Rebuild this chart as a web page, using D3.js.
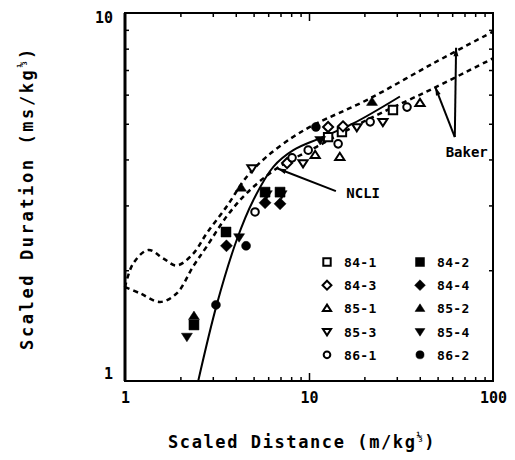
<!DOCTYPE html>
<html>
<head>
<meta charset="utf-8">
<script src="https://cdn.jsdelivr.net/npm/d3@7"></script>
<style>
  body { margin: 0; background: #fff; }
  text { font-family: "DejaVu Sans Mono", monospace; font-weight: bold; fill: #000; }
</style>
</head>
<body>
<div id="chart"></div>
<script>
// values: [scaled distance, scaled duration]
const xTickLabels = [1, 10, 100];
const yTickLabels = [1, 10];
const seriesNames = ["84-1", "84-2", "84-3", "84-4", "85-1", "85-2", "85-3", "85-4", "86-1", "86-2"];

const pts841 = [[12.7, 4.6], [15.1, 4.75], [28.6, 5.45]];
const pts842 = [[2.37, 1.42], [3.54, 2.54], [5.77, 3.26], [6.96, 3.26]];
const pts843 = [[7.6, 3.91], [12.7, 4.9], [15.3, 4.92]];
const pts844 = [[3.56, 2.33], [5.77, 3.05], [6.96, 3.03]];
const pts851 = [[10.8, 4.11], [14.7, 4.06], [40.1, 5.69]];
const pts852 = [[2.37, 1.5], [4.27, 3.35], [22.0, 5.73]];
const pts853 = [[4.9, 3.79], [9.28, 3.91], [18.2, 4.9], [25.2, 5.06]];
const pts854 = [[2.17, 1.32], [4.17, 2.46], [5.9, 3.22], [7.1, 3.22], [11.5, 4.52]];
const pts861 = [[5.09, 2.88], [8.09, 4.04], [9.9, 4.24], [14.4, 4.41], [21.5, 5.06], [34.1, 5.55]];
const pts862 = [[3.12, 1.61], [4.55, 2.33], [10.9, 4.9]];

// NCLI fit and the two Baker curves
const ncli = [[2.5, 1.0], [3.15, 1.61], [4.05, 2.42], [4.98, 3.1], [6.4, 3.82], [8.22, 4.24], [11.5, 4.57], [17.4, 5.01], [31.2, 5.93]];
const bakerUpper = [[1.0, 1.80], [1.11, 2.09], [1.34, 2.27], [1.62, 2.15], [1.91, 2.06], [2.35, 2.22], [2.78, 2.52], [3.57, 2.98], [4.59, 3.59], [5.89, 4.07], [8.22, 4.61], [11.0, 5.01], [20.6, 5.8], [47.4, 7.3], [100, 8.9]];
const bakerLower = [[1.0, 1.80], [1.21, 1.73], [1.55, 1.64], [1.91, 1.73], [2.35, 2.05], [2.78, 2.32], [3.57, 2.8], [4.59, 3.24], [6.67, 3.78], [11.0, 4.33], [20.6, 5.12], [47.4, 6.24], [100, 7.53]];

const seriesPoints = [pts841, pts842, pts843, pts844, pts851, pts852, pts853, pts854, pts861, pts862];

const markerStyle = {
  "84-1": { shape: "square", filled: false }, "84-2": { shape: "square", filled: true },
  "84-3": { shape: "diamond", filled: false }, "84-4": { shape: "diamond", filled: true },
  "85-1": { shape: "up", filled: false }, "85-2": { shape: "up", filled: true },
  "85-3": { shape: "down", filled: false }, "85-4": { shape: "down", filled: true },
  "86-1": { shape: "circle", filled: false }, "86-2": { shape: "circle", filled: true }
};

const width = 515, height = 460;
const margin = { top: 13, right: 22, bottom: 79, left: 125 };
const innerW = width - margin.left - margin.right,
  innerH = height - margin.top - margin.bottom;

const svg = d3.select("#chart").append("svg")
  .attr("width", width)
  .attr("height", height);

const g = svg.append("g")
  .attr("transform", "translate(" + margin.left + "," + margin.top + ")");

const x = d3.scaleLog().domain([1, 100]).range([0, innerW]);
const y = d3.scaleLog().domain([1, 10]).range([innerH, 0]);

// symbol outline around (0,0), r = half width
const symbolPath = (shape, r) => {
  if (shape == "circle") {
    const p = d3.path(); p.arc(0, 0, r * 0.9, 0, 2 * Math.PI); p.closePath(); return p.toString();
  }
  if (shape == "square") return "M" + (-r) + "," + (-r) + "H" + r + "V" + r + "H" + (-r) + "Z";
  if (shape == "diamond") { const q = r * 1.2; return "M0," + (-q) + "L" + q + ",0L0," + q + "L" + (-q) + ",0Z"; }
  const h = r * 1.7, s = shape == "up" ? 1 : -1;
  return "M0," + (-s * h * 0.6) + "L" + (r * 1.1) + "," + (s * h * 0.4) + "L" + (-r * 1.1) + "," + (s * h * 0.4) + "Z";
};
const drawMarker = (sel, name, r) => {
  const st = markerStyle[name];
  sel.append("path")
    .attr("d", symbolPath(st.shape, st.filled ? r : r - 0.8))
    .attr("transform", (d) => "translate(" + d[0] + "," + d[1] + ")")
    .attr("fill", st.filled ? "#000" : "#fff")
    .attr("stroke", "#000")
    .attr("stroke-width", st.filled ? 0.5 : 2);
};

// ticks (inward) on all four sides
const xMinor = [2, 3, 4, 5, 6, 7, 8, 9, 20, 30, 40, 50, 60, 70, 80, 90];
const yMinor = [2, 3, 4, 5, 6, 7, 8, 9];

g.append("g").attr("transform", "translate(0," + innerH + ")")
  .call(d3.axisBottom(x).tickValues(xMinor).tickSize(-4).tickFormat(""));
g.append("g").attr("transform", "translate(0," + innerH + ")")
  .call(d3.axisBottom(x).tickValues([10]).tickSize(-8).tickFormat(""));
g.append("g")
  .call(d3.axisTop(x).tickValues(xMinor).tickSize(-4).tickFormat(""));
g.append("g")
  .call(d3.axisTop(x).tickValues([10]).tickSize(-8).tickFormat(""));
g.append("g")
  .call(d3.axisLeft(y).tickValues(yMinor).tickSize(-4).tickFormat(""));
g.append("g").attr("transform", "translate(" + innerW + ",0)")
  .call(d3.axisRight(y).tickValues(yMinor).tickSize(-4).tickFormat(""));

g.selectAll(".domain").remove();
g.selectAll(".tick line").attr("stroke", "#000").attr("stroke-width", 1.5);

// tick labels
const xLab = g.append("g").attr("transform", "translate(0," + innerH + ")")
  .call(d3.axisBottom(x).tickValues(xTickLabels).tickSize(0).tickPadding(11).tickFormat(d3.format("d")));
const yLab = g.append("g")
  .call(d3.axisLeft(y).tickValues(yTickLabels).tickSize(0).tickPadding(12).tickFormat(d3.format("d")));
[xLab, yLab].forEach((a) => {
  a.select(".domain").remove();
  a.selectAll("text").style("font-family", "'DejaVu Sans Mono', monospace")
    .style("font-weight", "bold").style("font-size", "15px").attr("fill", "#000");
});
yLab.selectAll("text").attr("dy", (d) => d == 10 ? "0.62em" : "-0.2em");

// frame
g.append("rect")
  .attr("width", innerW).attr("height", innerH)
  .attr("fill", "none").attr("stroke", "#000").attr("stroke-width", 2);
g.append("line").attr("y2", innerH).attr("stroke", "#000").attr("stroke-width", 3);

// curves
const line = d3.line()
  .x((d) => x(d[0]))
  .y((d) => y(d[1]))
  .curve(d3.curveCatmullRom.alpha(0.5));

g.append("path").datum(bakerUpper)
  .attr("d", line).attr("fill", "none").attr("stroke", "#000")
  .attr("stroke-width", 2.5).attr("stroke-dasharray", "5,4");
g.append("path").datum(bakerLower)
  .attr("d", line).attr("fill", "none").attr("stroke", "#000")
  .attr("stroke-width", 2.5).attr("stroke-dasharray", "5,4");
g.append("path").datum(ncli)
  .attr("d", line).attr("fill", "none").attr("stroke", "#000")
  .attr("stroke-width", 2);

// data points
seriesNames.forEach((name, i) => {
  const sel = g.append("g").selectAll("g").data(seriesPoints[i].map((p) => [x(p[0]), y(p[1])]))
    .enter().append("g");
  drawMarker(sel, name, 5);
});

// annotation arrows
const arrowHead = (x1, y1, x2, y2) => {
  const a = Math.atan2(y2 - y1, x2 - x1), L = 9, w = 0.28;
  return "M" + x2 + "," + y2 +
    "L" + (x2 - L * Math.cos(a - w)) + "," + (y2 - L * Math.sin(a - w)) +
    "L" + (x2 - L * Math.cos(a + w)) + "," + (y2 - L * Math.sin(a + w)) + "Z";
};
const arrow = (x1, y1, x2, y2) => {
  g.append("line").attr("x1", x1).attr("y1", y1).attr("x2", x2).attr("y2", y2)
    .attr("stroke", "#000").attr("stroke-width", 2);
  g.append("path").attr("d", arrowHead(x1, y1, x2, y2)).attr("fill", "#000");
};

const bakerFoot = [x(62), y(4.6)];
arrow(bakerFoot[0], bakerFoot[1], x(63), y(8.05));
arrow(bakerFoot[0], bakerFoot[1], x(48.5), y(6.3));
g.append("text").attr("x", x(72)).attr("y", y(4.05))
  .attr("text-anchor", "middle").style("font-size", "14px").text("Baker");

arrow(x(14.0), y(3.28), x(6.75), y(3.78));
g.append("text").attr("x", x(19.7)).attr("y", y(3.14))
  .attr("text-anchor", "middle").style("font-size", "14px").text("NCLI");

// legend
const legend = g.append("g");
seriesNames.forEach((name, i) => {
  const col = i % 2, row = Math.floor(i / 2);
  const lx = col == 0 ? 202 : 295, ly = 249 + row * 23.2;
  const item = legend.append("g").datum([lx, ly]);
  drawMarker(item, name, 4.5);
  legend.append("text").attr("x", lx + 17).attr("y", ly + 5)
    .style("font-size", "13px").style("letter-spacing", "0.3px").text(name);
});

// axis titles
svg.append("text")
  .attr("x", 302).attr("y", 448)
  .attr("text-anchor", "middle")
  .style("font-size", "17px").style("letter-spacing", "1.6px")
  .html('Scaled Distance  (m/kg<tspan dy="-8" style="font-size:10px">⅓</tspan><tspan dy="8">)</tspan>');

svg.append("text")
  .attr("transform", "translate(33,198) rotate(-90)")
  .attr("text-anchor", "middle")
  .style("font-size", "17px").style("letter-spacing", "2.6px")
  .html('Scaled Duration  (ms/kg<tspan dy="-8" style="font-size:10px">⅓</tspan><tspan dy="8">)</tspan>');
</script>
</body>
</html>
